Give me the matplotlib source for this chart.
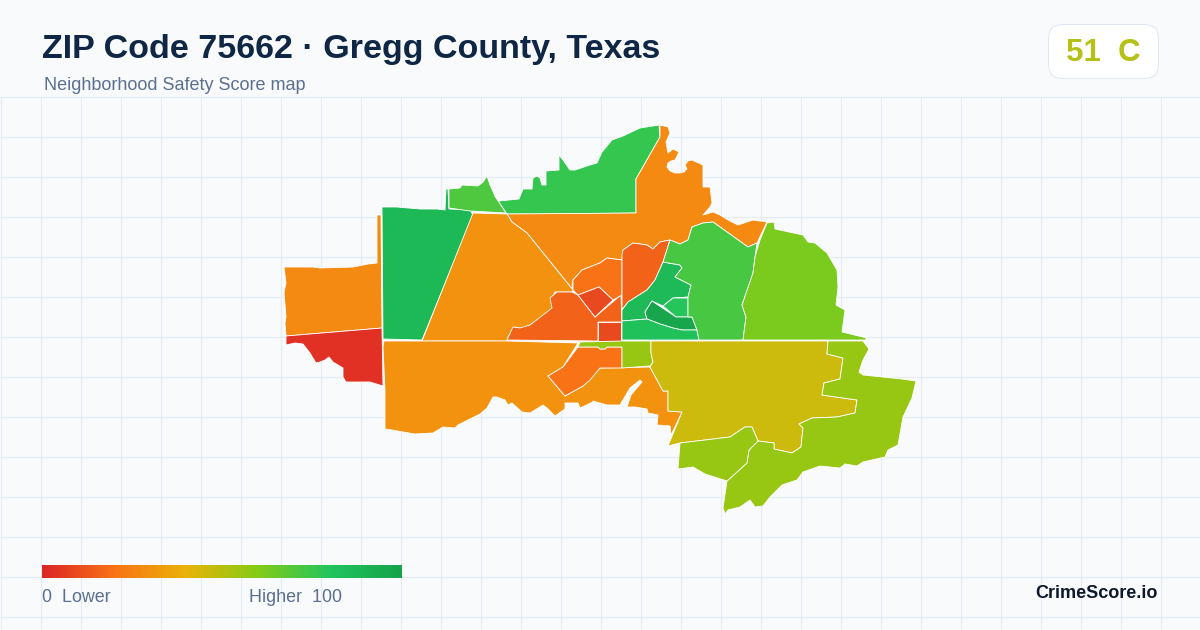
import numpy as np
import matplotlib
matplotlib.use("Agg")
import matplotlib.pyplot as plt
from matplotlib.colors import LinearSegmentedColormap
from matplotlib.patches import Polygon, FancyBboxPatch

plt.rcParams['font.family'] = ['Liberation Sans', 'DejaVu Sans']

TITLE = "ZIP Code 75662 · Gregg County, Texas"
SUBTITLE = "Neighborhood Safety Score map"
BADGE = "51  C"
LOW_LABEL = "0  Lower"
HIGH_LABEL = "Higher  100"
BRAND = "CrimeScore.io"

ramp_stops = [0, 0.2, 0.4, 0.6, 0.8, 1.0]
ramp_colors = ['#dc2626', '#f97316', '#eab308', '#84cc16', '#22c55e', '#16a34a']

# Region outlines in pixel coordinates
west_orange = [(377,215),(381,215),(382,328),(286,336),(285,323),(286,317),(284,292),(286,283),(284,267),(313,267),(320,268),(353,267),(368,264),(377,263),(377,245)]
west_red = [(286,336),(382,328),(383,386),(370,382),(346,382),(343,377),(343,368),(333,362),(329,357),(325,360),(320,362),(316,363),(310,353),(303,344),(295,343),(286,345)]
west_green = [(382,207),(397,207),(420,209),(437,209),(445,210),(446,189),(448,189),(449,209),(470,210),(473,215),(422,340),(383,339)]
nw_light = [(449,189),(460,188),(462,185),(478,186),(483,182),(487,176),(490,185),(495,196),(506,213),(470,211),(449,208)]
north_green = [(495,196),(499,201),(519,199),(523,189),(532,189),(533,178),(537,176),(540,178),(542,185),(546,185),(546,171),(559,170),(559,155),(563,160),(570,170),(575,170),(590,165),(597,163),(602,152),(612,140),(623,136),(640,128),(659,125),(660,137),(636,179),(636,213),(562,214),(507,214)]
north_orange = [(507,214),(512,222),(527,233),(573,290),(572,285),(573,280),(582,270),(600,263),(607,258),(622,260),(623,250),(633,243),(647,245),(653,249),(660,242),(670,240),(680,244),(688,240),(692,227),(703,223),(713,222),(748,247),(757,243),(767,222),(753,220),(738,225),(728,220),(720,215),(713,212),(703,215),(710,207),(712,203),(710,187),(703,187),(703,165),(692,160),(688,161),(685,165),(687,169),(684,172),(680,173),(675,173),(670,171),(667,167),(668,163),(671,161),(675,160),(679,152),(673,149),(668,153),(666,142),(670,133),(668,127),(660,125),(660,137),(636,179),(636,213)]
mid_orange = [(473,213),(507,214),(512,222),(527,233),(573,290),(572,292),(555,292),(552,298),(553,310),(533,323),(523,329),(515,327),(508,337),(507,341),(422,341)]
center_red = [(507,340),(513,327),(520,328),(530,325),(552,308),(550,298),(557,292),(572,292),(578,295),(595,317),(621,295),(622,322),(598,322),(598,341)]
diamond = [(578,295),(599,287),(613,300),(595,317)]
upper_orange = [(573,290),(573,280),(582,270),(600,263),(607,258),(622,260),(622,295),(613,300),(599,287),(578,295)]
square = [(598,322),(621,322),(621,341),(598,341)]
tall_red = [(622,255),(623,250),(633,243),(647,245),(653,249),(660,242),(670,240),(663,262),(655,280),(647,290),(628,302),(622,310)]
core_green = [(622,310),(628,302),(647,290),(655,280),(663,262),(680,265),(682,268),(675,277),(677,278),(691,285),(688,297),(673,298),(663,306),(652,301),(650,304),(645,312),(647,319),(622,321)]
core_light = [(663,306),(673,298),(688,298),(688,317),(676,317)]
core_dark = [(652,301),(676,317),(692,317),(697,330),(682,330),(673,328),(660,324),(647,319),(645,312),(650,304)]
core_south = [(622,321),(647,319),(660,324),(673,328),(682,330),(697,330),(699,340),(622,340)]
east_green = [(670,240),(680,244),(688,240),(692,227),(703,223),(713,222),(748,247),(757,243),(755,257),(753,273),(742,305),(746,317),(743,340),(699,340),(697,330),(692,317),(688,317),(688,297),(691,285),(677,278),(675,277),(682,268),(680,265),(663,262)]
ne_lime = [(767,223),(774,222),(775,229),(803,235),(808,242),(815,243),(827,253),(837,270),(838,287),(836,305),(845,310),(842,332),(867,338),(865,340),(743,340),(746,317),(742,305),(753,273),(755,257),(760,240)]
south_orange = [(384,341),(507,341),(578,343),(563,367),(548,376),(565,396),(583,386),(600,368),(650,367),(663,391),(668,391),(668,411),(682,412),(671,435),(670,426),(657,425),(658,415),(648,413),(647,409),(635,407),(627,407),(631,395),(642,382),(640,380),(630,388),(620,405),(607,405),(593,401),(597,411),(593,402),(580,408),(578,403),(565,403),(565,409),(555,416),(547,408),(543,405),(530,413),(522,412),(512,403),(508,405),(505,400),(497,397),(493,397),(487,408),(480,414),(458,425),(455,428),(443,427),(433,433),(415,434),(403,432),(392,430),(385,429),(385,390),(383,347)]
south_inner = [(578,347),(598,347),(600,349),(605,349),(607,347),(622,347),(622,368),(600,368),(590,380),(583,386),(565,396),(548,376),(563,367)]
lime_strip = [(580,342),(622,341),(651,341),(651,353),(653,362),(650,366),(622,368),(622,347),(607,347),(605,349),(600,349),(598,347),(578,347)]
yellow_big = [(651,341),(828,341),(827,354),(843,358),(840,379),(824,383),(822,395),(857,400),(855,413),(837,417),(812,418),(799,424),(803,428),(801,447),(792,453),(774,449),(774,443),(758,441),(752,427),(745,427),(730,437),(680,443),(668,446),(682,412),(668,411),(668,391),(663,391),(650,367),(653,362),(651,353)]
se_lime = [(828,341),(863,341),(869,349),(863,360),(859,372),(863,375),(902,379),(916,381),(912,398),(903,417),(898,445),(888,450),(885,457),(863,462),(857,466),(845,464),(840,468),(820,466),(803,472),(797,480),(782,485),(770,497),(763,506),(755,507),(750,500),(740,507),(728,510),(725,514),(723,508),(727,481),(747,463),(749,450),(758,441),(774,443),(774,449),(792,453),(801,447),(803,428),(799,424),(812,418),(837,417),(855,413),(857,400),(822,395),(824,383),(840,379),(843,358),(827,354)]
south_lime = [(680,443),(730,437),(745,427),(752,427),(758,441),(749,450),(747,463),(727,481),(705,474),(693,467),(678,469)]

regions = [west_orange, west_red, west_green, nw_light, north_green, north_orange, mid_orange,
           center_red, upper_orange, diamond, square, tall_red, core_green, core_light, core_dark,
           core_south, east_green, ne_lime, south_orange, south_inner, lime_strip, yellow_big,
           se_lime, south_lime]
scores = [27, 3, 87, 71, 76, 27, 30,
          16, 20, 9, 9, 16, 86, 79, 98,
          83, 72, 62, 30, 20, 56, 46,
          56, 56]

BG = '#f8fafc'
GRID = '#e5edf2'
INK = '#0f2744'
MUTED = '#5b7090'

cmap = LinearSegmentedColormap.from_list('score', list(zip(ramp_stops, ramp_colors)))

fig = plt.figure(figsize=(12, 6.3), dpi=100, facecolor=BG)
ax = fig.add_axes([0, 0, 1, 1])
ax.set_facecolor(BG)
ax.axis('off')

ax.vlines(np.arange(0.5, 1200, 40), 96.5, 630, color=GRID, lw=0.8, zorder=1)
ax.hlines(np.arange(96.5, 630, 40), 0, 1200, color=GRID, lw=0.8, zorder=1)

for outline, score in zip(regions, scores):
    ax.add_patch(Polygon(outline, closed=True, facecolor=cmap(score / 100),
                         edgecolor='white', lw=0.6, joinstyle='round', zorder=2))

ax.imshow(np.linspace(0, 1, 360)[None, :], extent=[42, 402, 578, 565], cmap=cmap,
          aspect='auto', zorder=3, interpolation='bilinear')

ax.set_xlim(0, 1200)
ax.set_ylim(630, 0)

ax.text(42, 49.5, TITLE, fontsize=24.5, fontweight='bold', color=INK, ha='left', va='center', zorder=5)
ax.text(44, 85.5, SUBTITLE, fontsize=13.0, color=MUTED, ha='left', va='center', zorder=5)

ax.add_patch(FancyBboxPatch((1048.5 + 14, 24.5 + 14), 110 - 28, 54 - 28,
                            boxstyle='round,pad=14,rounding_size=14',
                            facecolor='white', edgecolor='#e2e8f0', lw=0.75, zorder=4))
ax.text(1103, 53, BADGE, fontsize=22.5, fontweight='bold', color='#b5c116', ha='center', va='center', zorder=5)

ax.text(42, 597.5, LOW_LABEL, fontsize=12.9, color=MUTED, ha='left', va='center', zorder=5)
ax.text(249, 597.5, HIGH_LABEL, fontsize=12.9, color=MUTED, ha='left', va='center', zorder=5)
ax.text(1158, 594, BRAND, fontsize=13.0, fontweight='bold', color='#0f172a', ha='right', va='center', zorder=5)

fig.savefig('out.png', dpi=100, facecolor=BG)
